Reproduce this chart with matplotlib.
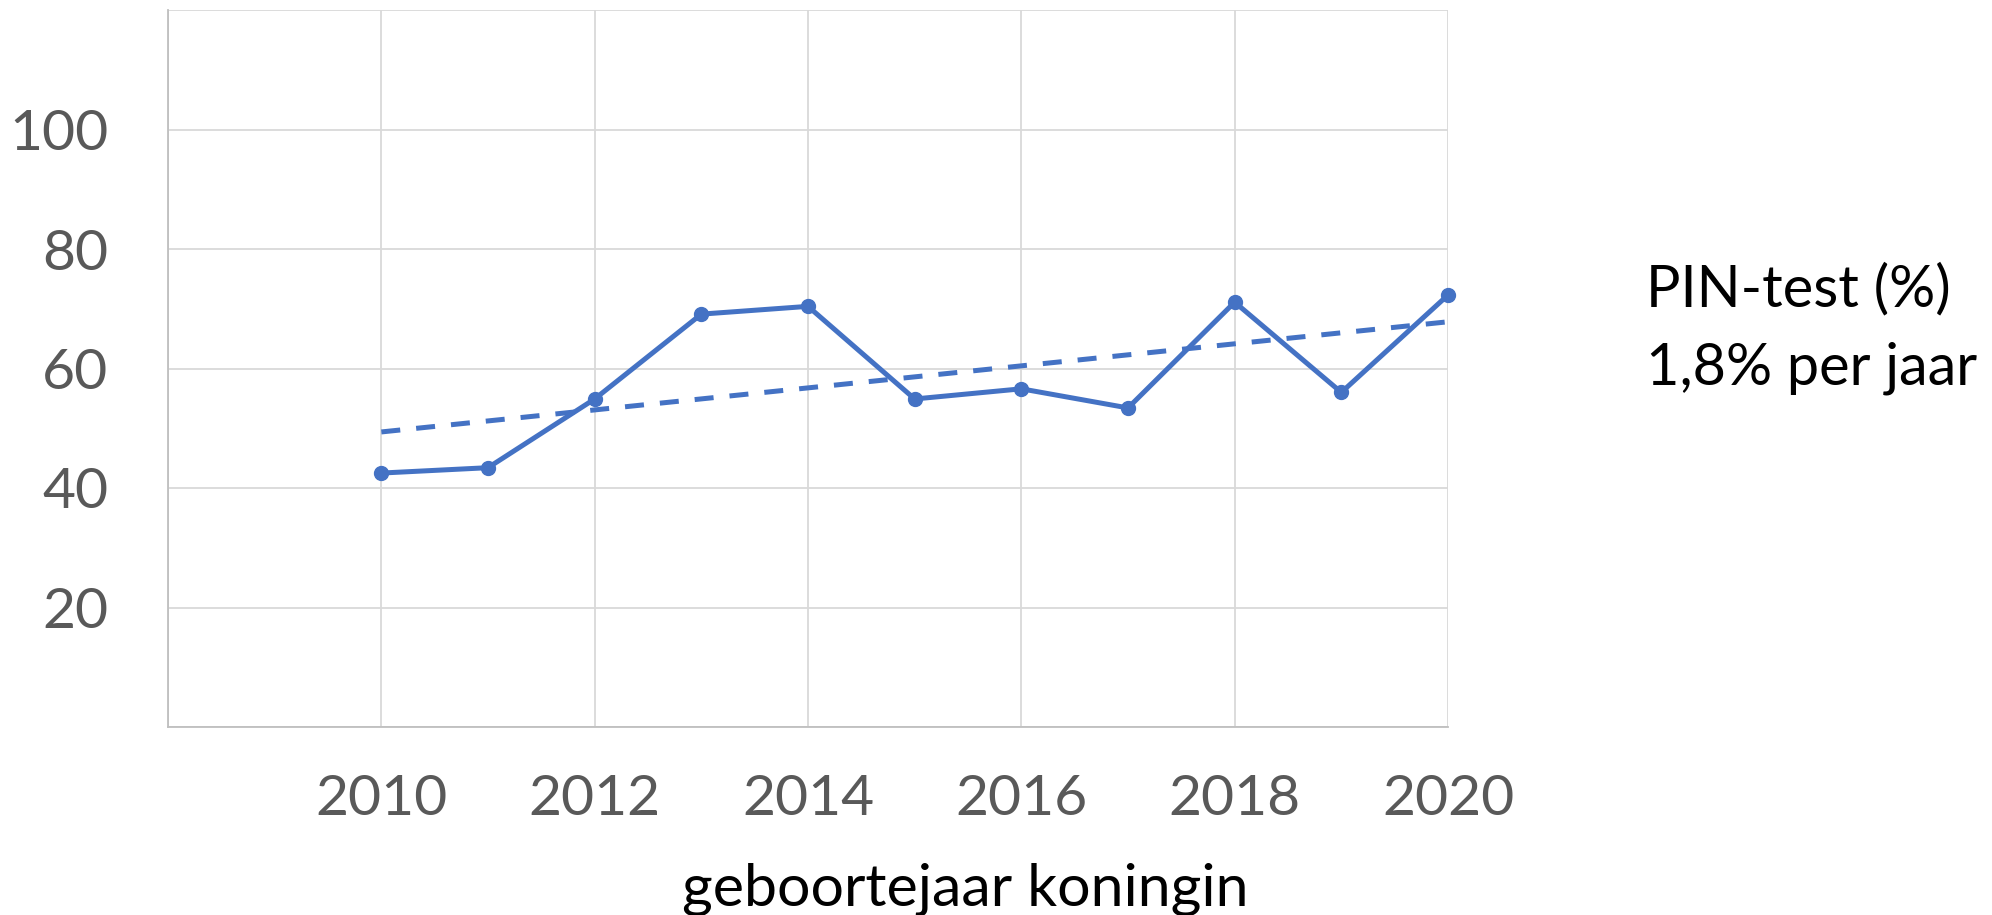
import matplotlib
matplotlib.use("Agg")
import matplotlib.pyplot as plt
import numpy as np

years = [2010, 2011, 2012, 2013, 2014, 2015, 2016, 2017, 2018, 2019, 2020]
pin_test = [42.5, 43.4, 54.9, 69.1, 70.4, 54.9, 56.6, 53.4, 71.1, 56.0, 72.3]
x_ticks = [2010, 2012, 2014, 2016, 2018, 2020]
y_ticks = [20, 40, 60, 80, 100]
series_label = "PIN-test (%)"
trend_label = "1,8% per jaar"
x_label = "geboortejaar koningin"

FONT = ["Lato", "DejaVu Sans"]
plt.rcParams['font.family'] = FONT

fig = plt.figure(figsize=(19.92, 9.15), dpi=100)
ax = fig.add_axes([168/1992, 1-727/915, (1448-168)/1992, (727-10)/915])

blue = "#4472C4"
grid_c = "#D9D9D9"

ax.plot(years, pin_test, color=blue, lw=3.6, marker='o', ms=10, zorder=3, clip_on=False)
coef = np.polyfit(years, pin_test, 1)
yr = np.array([years[0], years[-1]])
ax.plot(yr, np.polyval(coef, yr), color=blue, lw=3.6, ls=(0, (3.8, 3.2)), zorder=2, clip_on=False)

ax.set_xlim(2008, 2020)
ax.set_ylim(0, 120)
ax.set_xticks(list(range(2008, 2021, 2)))
ax.set_xticklabels([""] + [str(v) for v in x_ticks])
ax.set_yticks([0] + y_ticks + [120])
ax.set_yticklabels([""] + [str(v) for v in y_ticks] + [""])
ax.grid(True, color=grid_c, lw=1.3)
ax.set_axisbelow(True)
for s in ["top", "right"]:
    ax.spines[s].set_visible(False)
ax.spines["left"].set_color("#BFBFBF")
ax.spines["bottom"].set_color("#BFBFBF")
ax.spines["left"].set_linewidth(1.3)
ax.spines["bottom"].set_linewidth(1.3)
ax.tick_params(length=0, labelsize=41, labelcolor="#595959")
ax.tick_params(axis='x', pad=34)
ax.tick_params(axis='y', pad=43)

fig.text(965/1992, 1-889/915, x_label, ha='center', va='center', fontsize=42.5, color="black")
fig.text(1646/1992, 1-290/915, series_label, ha='left', va='center', fontsize=41.5, color="black")
fig.text(1646/1992, 1-368/915, trend_label, ha='left', va='center', fontsize=41.5, color="black")

fig.savefig("out.png", dpi=100)
